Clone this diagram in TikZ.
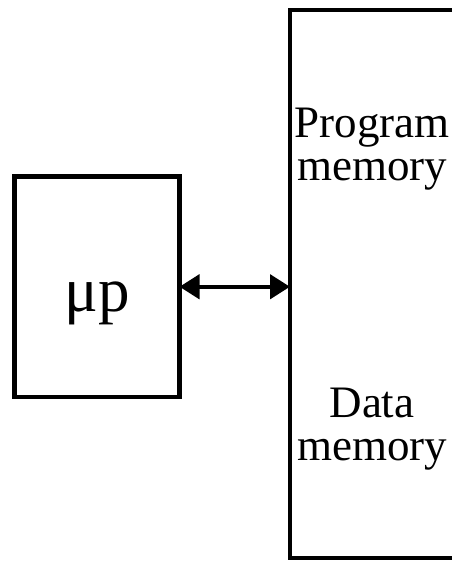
\documentclass[tikz,border=0pt]{standalone}
\usepackage{fontspec}
\setmainfont{Liberation Serif}
\usetikzlibrary{arrows.meta}
\begin{document}
\begin{tikzpicture}[x=1pt,y=-1pt,
  blk/.style={draw,line width=4.5pt,rectangle,inner sep=0pt,outer sep=0pt},
  lbl/.style={inner sep=0pt,align=center,font=\fontsize{45}{43}\selectfont},
  link/.style={line width=4.5pt,{Triangle[length=20pt,width=24pt]}-{Triangle[length=20pt,width=24pt]}}]
\clip (0,0) rectangle (452,563);
\fill[white] (0,0) rectangle (452,563);
\node[blk,minimum width=165pt,minimum height=220.5pt] (L) at (97,286.75) {};
\node[anchor=base,inner sep=0pt,font=\fontsize{63}{63}\selectfont] (mp) at (97,311) {μp};
\node[blk,minimum width=180pt,minimum height=548pt] (R) at (380,284) {};
\node[lbl] (pm) at (372,149) {Program\\memory};
\node[lbl] (dm) at (372,429) {Data\\memory};
\draw[link] (L.east) -- (L.east -| R.west);
\end{tikzpicture}
\end{document}
